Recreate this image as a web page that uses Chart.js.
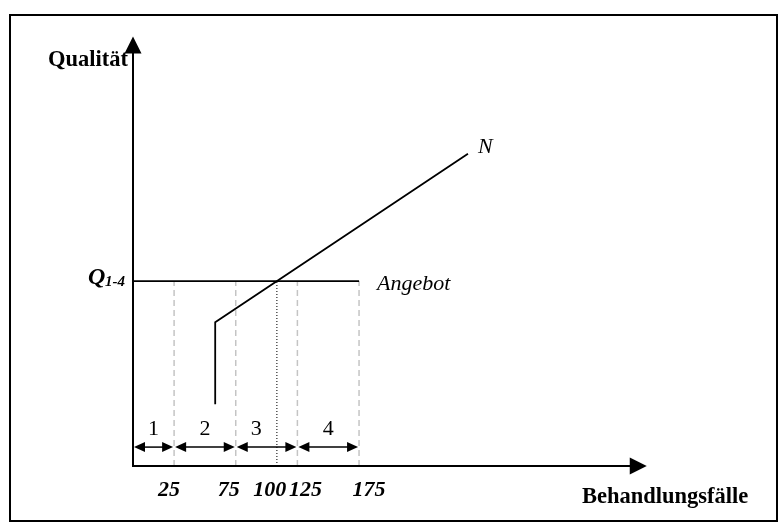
<!DOCTYPE html>
<html>
<head>
<meta charset="utf-8">
<script src="https://cdn.jsdelivr.net/npm/chart.js@4/dist/chart.umd.min.js"></script>
<style>
  html, body { margin: 0; padding: 0; background: #fff; }
  canvas { display: block; }
</style>
</head>
<body>
<canvas id="diagram" width="780" height="522"></canvas>
<script>
// tick positions on the (non linear) quantity axis and their labels
var tickPos = [1, 2.5, 3.5, 4, 5.5];
var tickLabels = ['25', '75', '100', '125', '175'];
// supply level Q1-4 and the segments 1..4
var qualityLevel = 4.5;
var segStart = [0, 1, 2.5, 4];
var segEnd = [1, 2.5, 4, 5.5];
var segLabels = ['1', '2', '3', '4'];
var segLabelAt = [0.5, 1.75, 3, 4.75];
var segArrowY = 0.46;
// demand curve N
var nX = [2, 2, 8.15];
var nY = [1.5, 3.5, 7.6];
// dashed borders of the segments, dotted line at 100
var dashedX = [1, 2.5, 4, 5.5];
var dottedX = 3.5;

var serif = '"Liberation Serif", "Times New Roman", serif';

function arrowHead(ctx, x, y, dx, dy, len, half) {
  // tip at (x,y), pointing in direction (dx,dy)
  ctx.beginPath();
  ctx.moveTo(x, y);
  ctx.lineTo(x - dx * len - dy * half, y - dy * len + dx * half);
  ctx.lineTo(x - dx * len + dy * half, y - dy * len - dx * half);
  ctx.closePath();
  ctx.fill();
}

var drawing = {
  id: 'drawing',
  afterDatasetsDraw(chart) {
    var ctx = chart.ctx;
    var sx = chart.scales.x, sy = chart.scales.y;
    var x0 = sx.getPixelForValue(0), y0 = sy.getPixelForValue(0);
    ctx.save();
    ctx.fillStyle = '#000';
    ctx.strokeStyle = '#000';

    // frame
    ctx.lineWidth = 2;
    ctx.strokeRect(10, 15, 767, 506);

    // axes
    ctx.lineWidth = 2;
    var yTop = sy.getPixelForValue(10.45);
    var xEnd = sx.getPixelForValue(12.5);
    ctx.beginPath();
    ctx.moveTo(x0, y0);
    ctx.lineTo(x0, yTop + 10);
    ctx.moveTo(x0 - 1, y0);
    ctx.lineTo(xEnd - 10, y0);
    ctx.stroke();
    arrowHead(ctx, x0, yTop, 0, -1, 17, 8.5);
    arrowHead(ctx, xEnd, y0, 1, 0, 17, 8.5);

    // segment double arrows
    var ay = sy.getPixelForValue(segArrowY);
    ctx.lineWidth = 1.5;
    ctx.font = '22px ' + serif;
    ctx.textAlign = 'center';
    ctx.textBaseline = 'alphabetic';
    for (var i = 0; i < segStart.length; i++) {
      var a = sx.getPixelForValue(segStart[i]) + 1;
      var b = sx.getPixelForValue(segEnd[i]) - 1;
      ctx.beginPath();
      ctx.moveTo(a + 6, ay);
      ctx.lineTo(b - 6, ay);
      ctx.stroke();
      arrowHead(ctx, a, ay, -1, 0, 11, 5);
      arrowHead(ctx, b, ay, 1, 0, 11, 5);
      ctx.fillText(segLabels[i], sx.getPixelForValue(segLabelAt[i]), ay - 12);
    }

    // tick labels (nudged apart where they crowd)
    var nudge = [-5, -7, -7, 8, 10];
    ctx.font = 'italic bold 22px ' + serif;
    ctx.textAlign = 'center';
    for (var j = 0; j < tickPos.length; j++) {
      ctx.fillText(tickLabels[j], sx.getPixelForValue(tickPos[j]) + nudge[j], y0 + 30);
    }

    // axis titles
    ctx.font = 'bold 22.5px ' + serif;
    ctx.textAlign = 'right';
    ctx.fillText('Qualität', x0 - 5, yTop + 29);
    ctx.textAlign = 'left';
    ctx.fillText('Behandlungsfälle', 582, y0 + 37);

    // Q1-4 label
    var qy = sy.getPixelForValue(qualityLevel);
    ctx.textAlign = 'left';
    ctx.font = 'italic bold 24px ' + serif;
    ctx.fillText('Q', 88, qy + 3);
    ctx.font = 'italic bold 15px ' + serif;
    ctx.fillText('1-4', 105, qy + 5);

    // Angebot and N
    ctx.font = 'italic 22px ' + serif;
    ctx.fillText('Angebot', sx.getPixelForValue(segEnd[3]) + 18, qy + 9);
    ctx.fillText('N', sx.getPixelForValue(nX[2]) + 10, sy.getPixelForValue(nY[2]) - 1);
    ctx.restore();
  }
};

var datasets = [
  {
    data: [{x: 0, y: qualityLevel}, {x: segEnd[3], y: qualityLevel}],
    borderColor: '#000', borderWidth: 1.8
  },
  {
    data: nX.map(function(x, i) { return {x: x, y: nY[i]}; }),
    borderColor: '#000', borderWidth: 1.8
  },
  {
    data: [{x: dottedX, y: 0}, {x: dottedX, y: qualityLevel}],
    borderColor: '#333', borderWidth: 1.3, borderDash: [1, 2]
  }
];
dashedX.forEach(function(x) {
  datasets.push({
    data: [{x: x, y: 0}, {x: x, y: qualityLevel}],
    borderColor: '#c4c4c4', borderWidth: 1.5, borderDash: [6, 4]
  });
});
datasets.forEach(function(d) {
  d.type = 'line';
  d.pointRadius = 0;
  d.fill = false;
  d.tension = 0;
});

new Chart(document.getElementById('diagram').getContext('2d'), {
  type: 'scatter',
  data: { datasets: datasets },
  options: {
    responsive: false,
    animation: false,
    devicePixelRatio: 1,
    layout: { padding: { left: 133, right: 30.5, top: 13.9, bottom: 56 } },
    plugins: { legend: { display: false }, tooltip: { enabled: false } },
    scales: {
      x: { type: 'linear', min: 0, max: 15, display: false },
      y: { type: 'linear', min: 0, max: 11, display: false }
    }
  },
  plugins: [drawing]
});
</script>
</body>
</html>
